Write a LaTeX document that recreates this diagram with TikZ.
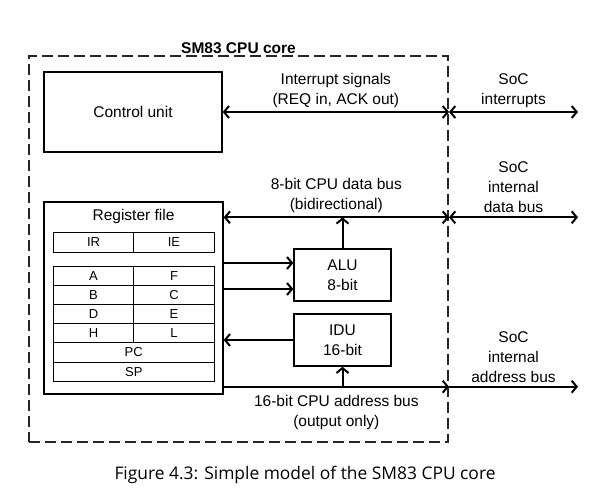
\documentclass[tikz,border=0pt]{standalone}
\usepackage{fontspec}
\setmainfont{Liberation Sans}
\newfontfamily\capfont{Open Sans}
\usetikzlibrary{arrows.meta, positioning, calc}

\begin{document}
\begin{tikzpicture}[
    x=1pt, y=-1pt,
    font=\fontsize{15.5}{20}\selectfont,
    >={Straight Barb[length=5pt, width=12pt]},
    unitbox/.style={rectangle, draw=black, line width=1.4pt, inner sep=0pt, align=center, minimum width=97pt, minimum height=52pt},
    reg/.style={rectangle, draw=black, line width=1pt, inner sep=0pt, outer sep=0pt, minimum width=80.5pt, minimum height=19.2pt, font=\fontsize{13}{15}\selectfont},
    widereg/.style={reg, minimum width=161pt},
    core_box/.style={rectangle, draw=black!85, line width=2pt, dash pattern=on 11pt off 5pt, inner sep=0pt, minimum width=419pt, minimum height=386pt},
    bus/.style={line width=2pt, draw=black},
    buslabel/.style={align=center}
]
\useasboundingbox (0,0) rectangle (610,496);
% ---------------- CPU CORE ----------------
\node[core_box] (core) at (238.5,249) {};
\node[above=0pt of core.north, inner sep=1pt, font=\fontsize{15.5}{20}\selectfont\bfseries] (coretitle) {SM83 CPU core};
\node[unitbox, minimum width=178pt, minimum height=80pt] (cu) at (133,112) {Control unit};
\node[unitbox, minimum width=179pt, minimum height=192pt] (regfile) at (133.5,298) {};
\node (rftitle) at (133.5,216) {Register file};
\node[unitbox] (alu) at (342.5,275) {ALU\\8-bit};
\node[unitbox] (idu) at (342.5,340) {IDU\\16-bit};
% ---------------- REGISTERS ----------------
\node[reg] (ir) at (93.5,242.5) {IR};
\node[reg, right=0pt of ir] (ie) {IE};
\foreach \l/\r [count=\i] in {A/F, B/C, D/E, H/L} {
  \node[reg] (r\l) at (93.5,256.4+19.2*\i) {\l};
  \node[reg, right=0pt of r\l] (r\r) {\r};
}
\node[widereg, below=0pt of rH.south east] (pc) {PC};
\node[widereg, below=0pt of pc] (sp) {SP};
% ---------------- BUS COORDINATES ----------------
\coordinate (irqx) at (cu.east -| core.east);
\coordinate (irqout) at ($(irqx)+(129,0)$);
\coordinate (dbin) at ($(regfile.north east)+(0,16)$);
\coordinate (dbx) at (dbin -| core.east);
\coordinate (dbout) at ($(dbx)+(129,0)$);
\coordinate (abin) at ($(regfile.south east)+(0,-8)$);
\coordinate (abx) at (abin -| core.east);
\coordinate (about) at ($(abx)+(129,0)$);
\coordinate (aluin1) at ($(alu.west)+(0,-12)$);
\coordinate (aluin2) at ($(alu.west)+(0,14)$);
% ---------------- INTERRUPTS ----------------
\draw[bus, <->] (cu.east) -- node[above, buslabel] {Interrupt signals\\(REQ in, ACK out)} (irqx);
\draw[bus, <->] (irqx) -- node[above, buslabel] {SoC\\interrupts} (irqout);
% ---------------- DATA BUS ----------------
\draw[bus, <->] (dbin) -- node[above, buslabel] {8-bit CPU data bus\\(bidirectional)} (dbx);
\draw[bus, <->] (dbx) -- node[above, buslabel] {SoC\\internal\\data bus} (dbout);
\draw[bus, ->] (alu.north) -- (alu.north |- dbin);
\draw[bus, ->] (aluin1 -| regfile.east) -- (aluin1);
\draw[bus, ->] (aluin2 -| regfile.east) -- (aluin2);
\draw[bus, ->] (idu.west) -- (idu.west -| regfile.east);
% ---------------- ADDRESS BUS ----------------
\draw[bus, ->] (abin) -- node[below=4pt, buslabel] {16-bit CPU address bus\\(output only)} (abx);
\draw[bus, ->] (abx) -- node[above, buslabel] {SoC\\internal\\address bus} (about);
\draw[bus, ->] (idu.south |- abin) -- (idu.south);
% ---------------- CAPTION ----------------
\node[font=\capfont\fontsize{17.4}{20}\selectfont] (caption) at (305,475) {Figure 4.3: Simple model of the SM83 CPU core};
\end{tikzpicture}
\end{document}
